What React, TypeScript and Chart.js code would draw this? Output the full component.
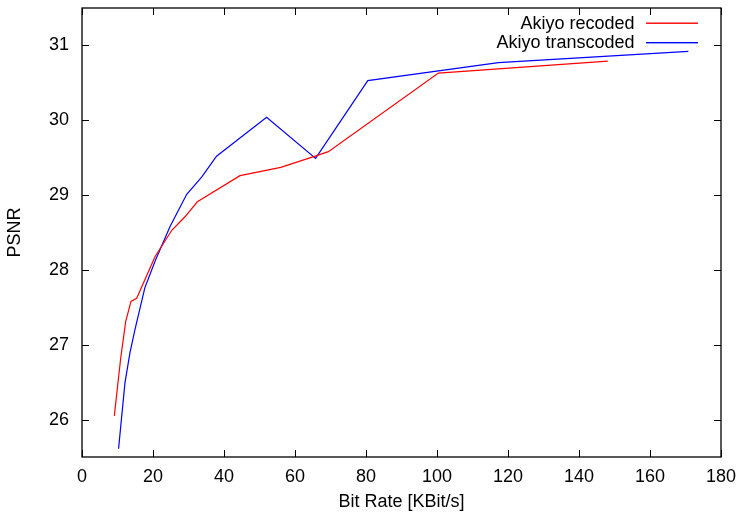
import React, { useEffect, useRef } from "react";
import { Chart, registerables } from "chart.js";

Chart.register(...registerables);

const recodedX = [9.1, 10.9, 12.3, 13.8, 15.4, 20.6, 25.3, 29.0, 32.5, 44.5, 56.0, 65.7, 69.4, 100.4, 148.1];
const recodedY = [26.05, 26.82, 27.31, 27.58, 27.62, 28.18, 28.53, 28.71, 28.91, 29.26, 29.37, 29.52, 29.58, 30.63, 30.79];

const transX = [10.3, 12.1, 13.5, 14.9, 17.7, 20.6, 24.8, 29.5, 33.7, 37.9, 52.0, 65.8, 80.5, 117.3, 170.8];
const transY = [25.61, 26.49, 26.89, 27.2, 27.76, 28.12, 28.58, 29.01, 29.24, 29.52, 30.04, 29.49, 30.53, 30.77, 30.92];

const seriesLabels = ["Akiyo recoded", "Akiyo transcoded"];
const seriesColors = ["#ff0000", "#0000ff"];

const xTicks = [0, 20, 40, 60, 80, 100, 120, 140, 160, 180];
const yTicks = [26, 27, 28, 29, 30, 31];

const xTitle = "Bit Rate [KBit/s]";
const yTitle = "PSNR";

const FONT = "'Liberation Sans', Arial, Helvetica, sans-serif";

const framePlugin = {
  id: "frameTicks",
  afterDraw(chart: any) {
    const { ctx, chartArea } = chart;
    const { left, right, top, bottom } = chartArea;
    const xs = chart.scales.x;
    const ys = chart.scales.y;
    const tl = 7;
    ctx.save();
    ctx.strokeStyle = "#000";
    ctx.lineWidth = 1;
    ctx.beginPath();
    xTicks.forEach((v) => {
      const px = Math.round(xs.getPixelForValue(v)) + 0.5;
      ctx.moveTo(px, bottom);
      ctx.lineTo(px, bottom - tl);
      ctx.moveTo(px, top);
      ctx.lineTo(px, top + tl);
    });
    yTicks.forEach((v) => {
      const py = Math.round(ys.getPixelForValue(v)) + 0.5;
      ctx.moveTo(left, py);
      ctx.lineTo(left + tl, py);
      ctx.moveTo(right, py);
      ctx.lineTo(right - tl, py);
    });
    ctx.stroke();
    ctx.lineWidth = 1.3;
    ctx.strokeRect(left, top, right - left, bottom - top);
    ctx.restore();
  },
};

const legendPlugin = {
  id: "gnuLegend",
  afterDraw(chart: any) {
    const { ctx } = chart;
    seriesLabels.forEach((label, i) => {
      const y = 23 + i * 19.5;
      ctx.save();
      ctx.font = `18px ${FONT}`;
      ctx.textAlign = "right";
      ctx.textBaseline = "middle";
      ctx.fillStyle = "#000000";
      ctx.fillText(label, 634.5, y + 1);
      ctx.fillStyle = seriesColors[i];
      ctx.fillRect(646, y - 0.5, 52, 1.4);
      ctx.restore();
    });
  },
};

export default function App() {
  const ref = useRef<HTMLCanvasElement | null>(null);

  useEffect(() => {
    if (!ref.current) return;
    const chart = new Chart(ref.current, {
      type: "scatter",
      data: {
        datasets: [
          {
            label: seriesLabels[0],
            data: recodedX.map((x, i) => ({ x, y: recodedY[i] })),
            borderColor: seriesColors[0],
            backgroundColor: seriesColors[0],
            showLine: true,
            pointRadius: 0,
            borderWidth: 1.2,
            tension: 0,
          },
          {
            label: seriesLabels[1],
            data: transX.map((x, i) => ({ x, y: transY[i] })),
            borderColor: seriesColors[1],
            backgroundColor: seriesColors[1],
            showLine: true,
            pointRadius: 0,
            borderWidth: 1.2,
            tension: 0,
          },
        ],
      },
      options: {
        animation: false,
        responsive: true,
        maintainAspectRatio: false,
        layout: { padding: { top: 8, right: 20, left: 0, bottom: 0 } },
        plugins: {
          legend: { display: false },
          tooltip: { enabled: false },
        },
        scales: {
          x: {
            type: "linear",
            min: 0,
            max: 180,
            afterBuildTicks: (s: any) => {
              s.ticks = xTicks.map((v) => ({ value: v }));
            },
            afterFit: (s: any) => {
              s.height = 56;
              s.paddingLeft = 0;
              s.paddingRight = 0;
            },
            grid: { display: false, drawTicks: false },
            border: { display: false },
            ticks: {
              color: "#000",
              font: { family: FONT, size: 18 },
              padding: 9,
              maxRotation: 0,
              autoSkip: false,
            },
            title: {
              display: true,
              text: xTitle,
              color: "#000",
              font: { family: FONT, size: 18 },
              padding: { top: 0, bottom: 0 },
            },
          },
          y: {
            type: "linear",
            min: 25.5,
            max: 31.5,
            afterBuildTicks: (s: any) => {
              s.ticks = yTicks.map((v) => ({ value: v }));
            },
            afterFit: (s: any) => {
              s.width = 82;
              s.paddingTop = 0;
              s.paddingBottom = 0;
            },
            grid: { display: false, drawTicks: false },
            border: { display: false },
            ticks: {
              color: "#000",
              font: { family: FONT, size: 18 },
              padding: 13,
              autoSkip: false,
            },
            title: {
              display: true,
              text: yTitle,
              color: "#000",
              font: { family: FONT, size: 18 },
              padding: { top: 4, bottom: 0 },
            },
          },
        },
      },
      plugins: [framePlugin, legendPlugin],
    });
    return () => chart.destroy();
  }, []);

  return (
    <div style={{ position: "absolute", left: 0, top: 0, width: 741, height: 513, background: "#fff" }}>
      <canvas ref={ref} />
    </div>
  );
}
